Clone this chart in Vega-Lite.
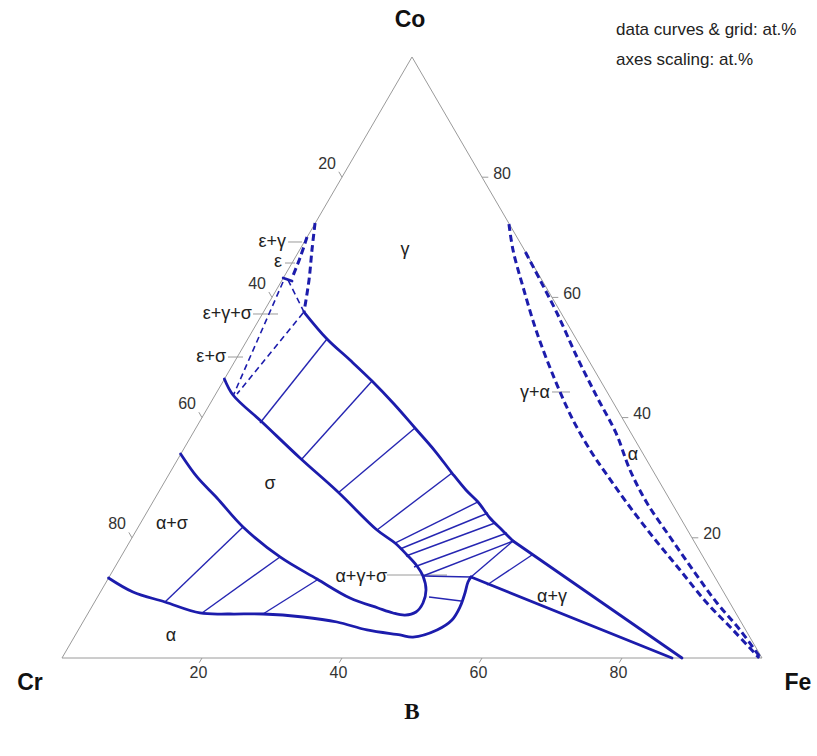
{
  "$schema": "https://vega.github.io/schema/vega-lite/v6.json",
  "width": 817,
  "height": 756,
  "autosize": {"type": "none"},
  "padding": 0,
  "background": "white",
  "config": {"view": {"stroke": null}},
  "datasets": {
    "segments": [
      {"kind": "edge", "x": 0, "y": 0, "x2": 100, "y2": 0},
      {"kind": "edge", "x": 100, "y": 0, "x2": 50, "y2": 100},
      {"kind": "edge", "x": 50, "y": 100, "x2": 0, "y2": 0},
      {"kind": "tick", "x": 20, "y": 0, "x2": 19.6, "y2": -0.8},
      {"kind": "tick", "x": 40, "y": 0, "x2": 39.6, "y2": -0.8},
      {"kind": "tick", "x": 60, "y": 0, "x2": 59.6, "y2": -0.8},
      {"kind": "tick", "x": 80, "y": 0, "x2": 79.6, "y2": -0.8},
      {"kind": "tick", "x": 90, "y": 20, "x2": 90.9, "y2": 20},
      {"kind": "tick", "x": 80, "y": 40, "x2": 80.9, "y2": 40},
      {"kind": "tick", "x": 70, "y": 60, "x2": 70.9, "y2": 60},
      {"kind": "tick", "x": 60, "y": 80, "x2": 60.9, "y2": 80},
      {"kind": "tick", "x": 40, "y": 80, "x2": 39.55, "y2": 80.9},
      {"kind": "tick", "x": 30, "y": 60, "x2": 29.55, "y2": 60.9},
      {"kind": "tick", "x": 20, "y": 40, "x2": 19.55, "y2": 40.9},
      {"kind": "tick", "x": 10, "y": 20, "x2": 9.55, "y2": 20.9},
      {"kind": "leader", "x": 32.3, "y": 69.22, "x2": 34.3, "y2": 69.22},
      {"kind": "leader", "x": 31.86, "y": 65.72, "x2": 33.29, "y2": 65.72},
      {"kind": "leader", "x": 27.29, "y": 57.24, "x2": 30.86, "y2": 57.24},
      {"kind": "leader", "x": 23.71, "y": 50.08, "x2": 25.86, "y2": 50.08},
      {"kind": "leader", "x": 46.43, "y": 13.81, "x2": 55.0, "y2": 13.81},
      {"kind": "leader", "x": 70.0, "y": 44.26, "x2": 72.57, "y2": 44.26},
      {"kind": "tie", "x": 14.71, "y": 9.32, "x2": 25.86, "y2": 21.8},
      {"kind": "tie", "x": 20.0, "y": 7.49, "x2": 31.14, "y2": 16.81},
      {"kind": "tie", "x": 28.71, "y": 7.32, "x2": 36.43, "y2": 12.98},
      {"kind": "tie", "x": 52.43, "y": 10.15, "x2": 57.0, "y2": 9.48},
      {"kind": "tie", "x": 28.29, "y": 39.1, "x2": 37.86, "y2": 53.08},
      {"kind": "tie", "x": 34.14, "y": 32.95, "x2": 44.29, "y2": 46.09},
      {"kind": "tie", "x": 39.43, "y": 27.45, "x2": 50.43, "y2": 38.27},
      {"kind": "tie", "x": 45.0, "y": 21.3, "x2": 55.71, "y2": 30.78},
      {"kind": "tie", "x": 47.57, "y": 19.13, "x2": 59.43, "y2": 25.96},
      {"kind": "tie", "x": 48.29, "y": 18.14, "x2": 60.86, "y2": 24.13},
      {"kind": "tie", "x": 49.14, "y": 16.97, "x2": 61.86, "y2": 22.46},
      {"kind": "tie", "x": 50.29, "y": 15.14, "x2": 63.57, "y2": 20.8},
      {"kind": "tie", "x": 51.57, "y": 13.64, "x2": 64.43, "y2": 19.47},
      {"kind": "tie", "x": 51.57, "y": 13.64, "x2": 58.43, "y2": 13.48},
      {"kind": "tie", "x": 58.43, "y": 13.48, "x2": 64.43, "y2": 19.47},
      {"kind": "tie", "x": 60.71, "y": 12.15, "x2": 67.14, "y2": 17.14}
    ],
    "curves": [
      {"curve": "gamma", "kind": "smooth", "i": 0, "x": 34.57, "y": 57.57},
      {"curve": "gamma", "kind": "smooth", "i": 1, "x": 37.86, "y": 53.08},
      {"curve": "gamma", "kind": "smooth", "i": 2, "x": 41.14, "y": 49.58},
      {"curve": "gamma", "kind": "smooth", "i": 3, "x": 44.29, "y": 46.09},
      {"curve": "gamma", "kind": "smooth", "i": 4, "x": 47.43, "y": 42.26},
      {"curve": "gamma", "kind": "smooth", "i": 5, "x": 50.43, "y": 38.27},
      {"curve": "gamma", "kind": "smooth", "i": 6, "x": 53.29, "y": 34.44},
      {"curve": "gamma", "kind": "smooth", "i": 7, "x": 55.71, "y": 30.78},
      {"curve": "gamma", "kind": "smooth", "i": 8, "x": 57.71, "y": 27.95},
      {"curve": "gamma", "kind": "smooth", "i": 9, "x": 59.43, "y": 25.96},
      {"curve": "gamma", "kind": "smooth", "i": 10, "x": 61.14, "y": 23.29},
      {"curve": "gamma", "kind": "smooth", "i": 11, "x": 62.86, "y": 21.3},
      {"curve": "gamma", "kind": "smooth", "i": 12, "x": 64.43, "y": 19.47},
      {"curve": "gammaEnd", "kind": "solid", "i": 0, "x": 64.43, "y": 19.47},
      {"curve": "gammaEnd", "kind": "solid", "i": 1, "x": 88.57, "y": 0},
      {"curve": "sigma", "kind": "smooth", "i": 0, "x": 23.2, "y": 46.42},
      {"curve": "sigma", "kind": "smooth", "i": 1, "x": 24.43, "y": 43.76},
      {"curve": "sigma", "kind": "smooth", "i": 2, "x": 28.57, "y": 39.27},
      {"curve": "sigma", "kind": "smooth", "i": 3, "x": 34.0, "y": 33.28},
      {"curve": "sigma", "kind": "smooth", "i": 4, "x": 39.43, "y": 27.62},
      {"curve": "sigma", "kind": "smooth", "i": 5, "x": 45.0, "y": 21.3},
      {"curve": "sigma", "kind": "smooth", "i": 6, "x": 47.57, "y": 19.13},
      {"curve": "sigma", "kind": "smooth", "i": 7, "x": 49.29, "y": 17.14},
      {"curve": "sigma", "kind": "smooth", "i": 8, "x": 50.71, "y": 15.31},
      {"curve": "sigma", "kind": "smooth", "i": 9, "x": 51.57, "y": 13.64},
      {"curve": "sigma", "kind": "smooth", "i": 10, "x": 52.0, "y": 11.31},
      {"curve": "sigma", "kind": "smooth", "i": 11, "x": 51.57, "y": 9.15},
      {"curve": "sigma", "kind": "smooth", "i": 12, "x": 50.57, "y": 7.65},
      {"curve": "sigma", "kind": "smooth", "i": 13, "x": 49.0, "y": 7.15},
      {"curve": "sigma", "kind": "smooth", "i": 14, "x": 47.29, "y": 7.49},
      {"curve": "sigma", "kind": "smooth", "i": 15, "x": 45.14, "y": 8.32},
      {"curve": "sigma", "kind": "smooth", "i": 16, "x": 41.14, "y": 9.98},
      {"curve": "sigma", "kind": "smooth", "i": 17, "x": 36.43, "y": 13.14},
      {"curve": "sigma", "kind": "smooth", "i": 18, "x": 31.14, "y": 16.81},
      {"curve": "sigma", "kind": "smooth", "i": 19, "x": 25.86, "y": 21.8},
      {"curve": "sigma", "kind": "smooth", "i": 20, "x": 22.14, "y": 26.62},
      {"curve": "sigma", "kind": "smooth", "i": 21, "x": 19.29, "y": 30.12},
      {"curve": "sigma", "kind": "smooth", "i": 22, "x": 16.95, "y": 33.94},
      {"curve": "alpha", "kind": "smooth", "i": 0, "x": 6.65, "y": 13.31},
      {"curve": "alpha", "kind": "smooth", "i": 1, "x": 10.14, "y": 10.98},
      {"curve": "alpha", "kind": "smooth", "i": 2, "x": 14.71, "y": 9.32},
      {"curve": "alpha", "kind": "smooth", "i": 3, "x": 19.71, "y": 7.49},
      {"curve": "alpha", "kind": "smooth", "i": 4, "x": 24.0, "y": 7.32},
      {"curve": "alpha", "kind": "smooth", "i": 5, "x": 28.71, "y": 7.32},
      {"curve": "alpha", "kind": "smooth", "i": 6, "x": 34.43, "y": 6.82},
      {"curve": "alpha", "kind": "smooth", "i": 7, "x": 39.29, "y": 5.99},
      {"curve": "alpha", "kind": "smooth", "i": 8, "x": 43.57, "y": 4.66},
      {"curve": "alpha", "kind": "smooth", "i": 9, "x": 48.29, "y": 3.83},
      {"curve": "alpha", "kind": "smooth", "i": 10, "x": 50.14, "y": 3.49},
      {"curve": "alpha", "kind": "smooth", "i": 11, "x": 53.57, "y": 4.66},
      {"curve": "alpha", "kind": "smooth", "i": 12, "x": 55.71, "y": 6.32},
      {"curve": "alpha", "kind": "smooth", "i": 13, "x": 56.86, "y": 8.49},
      {"curve": "alpha", "kind": "smooth", "i": 14, "x": 57.57, "y": 10.82},
      {"curve": "alpha", "kind": "smooth", "i": 15, "x": 58.0, "y": 12.65},
      {"curve": "alpha", "kind": "smooth", "i": 16, "x": 58.43, "y": 13.48},
      {"curve": "alphaEnd", "kind": "solid", "i": 0, "x": 58.43, "y": 13.48},
      {"curve": "alphaEnd", "kind": "solid", "i": 1, "x": 87.14, "y": 0},
      {"curve": "epsTip", "kind": "solid", "i": 0, "x": 31.6, "y": 63.23},
      {"curve": "epsTip", "kind": "solid", "i": 1, "x": 32.86, "y": 62.73},
      {"curve": "epsA", "kind": "dashthick", "i": 0, "x": 36.15, "y": 72.38},
      {"curve": "epsA", "kind": "dashthick", "i": 1, "x": 35.71, "y": 67.89},
      {"curve": "epsA", "kind": "dashthick", "i": 2, "x": 35.29, "y": 62.9},
      {"curve": "epsA", "kind": "dashthick", "i": 3, "x": 34.57, "y": 57.57},
      {"curve": "epsB", "kind": "dashthick", "i": 0, "x": 35.0, "y": 70.05},
      {"curve": "epsB", "kind": "dashthick", "i": 1, "x": 34.0, "y": 66.56},
      {"curve": "epsB", "kind": "dashthick", "i": 2, "x": 32.86, "y": 63.23},
      {"curve": "epsC", "kind": "dashthin", "i": 0, "x": 32.29, "y": 62.9},
      {"curve": "epsC", "kind": "dashthin", "i": 1, "x": 34.57, "y": 57.57},
      {"curve": "epsD", "kind": "dashthin", "i": 0, "x": 31.57, "y": 62.56},
      {"curve": "epsD", "kind": "dashthin", "i": 1, "x": 24.43, "y": 43.59},
      {"curve": "epsE", "kind": "dashthin", "i": 0, "x": 34.43, "y": 57.4},
      {"curve": "epsE", "kind": "dashthin", "i": 1, "x": 25.0, "y": 43.93},
      {"curve": "R1", "kind": "dashthick", "i": 0, "x": 63.85, "y": 72.21},
      {"curve": "R1", "kind": "dashthick", "i": 1, "x": 64.43, "y": 67.89},
      {"curve": "R1", "kind": "dashthick", "i": 2, "x": 65.86, "y": 61.73},
      {"curve": "R1", "kind": "dashthick", "i": 3, "x": 67.86, "y": 54.08},
      {"curve": "R1", "kind": "dashthick", "i": 4, "x": 70.43, "y": 46.26},
      {"curve": "R1", "kind": "dashthick", "i": 5, "x": 73.0, "y": 39.6},
      {"curve": "R1", "kind": "dashthick", "i": 6, "x": 75.71, "y": 34.11},
      {"curve": "R1", "kind": "dashthick", "i": 7, "x": 77.86, "y": 30.45},
      {"curve": "R1", "kind": "dashthick", "i": 8, "x": 80.71, "y": 25.79},
      {"curve": "R1", "kind": "dashthick", "i": 9, "x": 84.43, "y": 20.13},
      {"curve": "R1", "kind": "dashthick", "i": 10, "x": 88.29, "y": 14.64},
      {"curve": "R1", "kind": "dashthick", "i": 11, "x": 92.14, "y": 9.15},
      {"curve": "R1", "kind": "dashthick", "i": 12, "x": 95.86, "y": 4.66},
      {"curve": "R1", "kind": "dashthick", "i": 13, "x": 99.6, "y": 0},
      {"curve": "R2", "kind": "dashthick", "i": 0, "x": 66.2, "y": 67.55},
      {"curve": "R2", "kind": "dashthick", "i": 1, "x": 68.29, "y": 62.9},
      {"curve": "R2", "kind": "dashthick", "i": 2, "x": 70.71, "y": 57.4},
      {"curve": "R2", "kind": "dashthick", "i": 3, "x": 73.57, "y": 50.08},
      {"curve": "R2", "kind": "dashthick", "i": 4, "x": 76.43, "y": 43.43},
      {"curve": "R2", "kind": "dashthick", "i": 5, "x": 79.14, "y": 37.44},
      {"curve": "R2", "kind": "dashthick", "i": 6, "x": 81.14, "y": 31.28},
      {"curve": "R2", "kind": "dashthick", "i": 7, "x": 83.57, "y": 25.79},
      {"curve": "R2", "kind": "dashthick", "i": 8, "x": 86.86, "y": 20.13},
      {"curve": "R2", "kind": "dashthick", "i": 9, "x": 90.14, "y": 14.64},
      {"curve": "R2", "kind": "dashthick", "i": 10, "x": 93.57, "y": 9.15},
      {"curve": "R2", "kind": "dashthick", "i": 11, "x": 96.86, "y": 4.66},
      {"curve": "R2", "kind": "dashthick", "i": 12, "x": 99.8, "y": 0}
    ],
    "texts": [
      {"role": "tc", "text": "20", "x": 19.5, "y": -2.5},
      {"role": "tc", "text": "40", "x": 39.5, "y": -2.5},
      {"role": "tc", "text": "60", "x": 59.5, "y": -2.5},
      {"role": "tc", "text": "80", "x": 79.5, "y": -2.5},
      {"role": "tc", "text": "20", "x": 37.86, "y": 82.25},
      {"role": "tc", "text": "40", "x": 27.86, "y": 62.25},
      {"role": "tc", "text": "60", "x": 17.86, "y": 42.25},
      {"role": "tc", "text": "80", "x": 7.86, "y": 22.25},
      {"role": "tl", "text": "20", "x": 91.6, "y": 20.6},
      {"role": "tl", "text": "40", "x": 81.6, "y": 40.6},
      {"role": "tl", "text": "60", "x": 71.6, "y": 60.6},
      {"role": "tl", "text": "80", "x": 61.6, "y": 80.6},
      {"role": "gc", "text": "γ", "x": 49.0, "y": 67.89},
      {"role": "gc", "text": "σ", "x": 29.71, "y": 28.95},
      {"role": "gc", "text": "α+σ", "x": 15.71, "y": 22.3},
      {"role": "gc", "text": "α", "x": 15.57, "y": 3.66},
      {"role": "gc", "text": "α+γ", "x": 70.0, "y": 10.15},
      {"role": "gc", "text": "α", "x": 81.57, "y": 33.78},
      {"role": "gr", "text": "ε+γ", "x": 32.0, "y": 69.22},
      {"role": "gr", "text": "ε", "x": 31.43, "y": 65.89},
      {"role": "gr", "text": "ε+γ+σ", "x": 27.14, "y": 57.24},
      {"role": "gr", "text": "ε+σ", "x": 23.43, "y": 50.08},
      {"role": "gr", "text": "α+γ+σ", "x": 46.43, "y": 13.48},
      {"role": "gr", "text": "γ+α", "x": 69.71, "y": 44.09},
      {"role": "v", "text": "Co", "x": 49.71, "y": 106.16},
      {"role": "v", "text": "Cr", "x": -4.57, "y": -4.16},
      {"role": "v", "text": "Fe", "x": 105.14, "y": -4.16},
      {"role": "n", "text": "data curves & grid: at.%", "x": 79.14, "y": 103.66},
      {"role": "n", "text": "axes scaling: at.%", "x": 79.14, "y": 98.75},
      {"role": "cap", "text": "B", "x": 50.0, "y": -8.99}
    ]
  },
  "encoding": {
    "x": {"field": "x", "type": "quantitative", "axis": null, "scale": {"domain": [-8.857, 107.857], "nice": false, "zero": false}},
    "y": {"field": "y", "type": "quantitative", "axis": null, "scale": {"domain": [-16.306, 109.484], "nice": false, "zero": false}}
  },
  "layer": [
    {
      "data": {"name": "segments"},
      "transform": [{"filter": "datum.kind !== 'tie'"}],
      "mark": {"type": "rule", "color": "#9a9a9a", "strokeWidth": 1},
      "encoding": {"x2": {"field": "x2"}, "y2": {"field": "y2"}}
    },
    {
      "data": {"name": "segments"},
      "transform": [{"filter": "datum.kind === 'tie'"}],
      "mark": {"type": "rule", "color": "#2626b2", "strokeWidth": 1.4},
      "encoding": {"x2": {"field": "x2"}, "y2": {"field": "y2"}}
    },
    {
      "data": {"name": "curves"},
      "transform": [{"filter": "datum.kind === 'solid'"}],
      "mark": {"type": "line", "color": "#1c1cac", "strokeWidth": 2.8, "strokeJoin": "round", "strokeCap": "round"},
      "encoding": {"detail": {"field": "curve", "type": "nominal"}, "order": {"field": "i", "type": "quantitative"}}
    },
    {
      "data": {"name": "curves"},
      "transform": [{"filter": "datum.kind === 'smooth'"}],
      "mark": {"type": "line", "color": "#1c1cac", "strokeWidth": 2.8, "strokeJoin": "round", "strokeCap": "round", "interpolate": "catmull-rom"},
      "encoding": {"detail": {"field": "curve", "type": "nominal"}, "order": {"field": "i", "type": "quantitative"}}
    },
    {
      "data": {"name": "curves"},
      "transform": [{"filter": "datum.kind === 'dashthick'"}],
      "mark": {"type": "line", "color": "#1c1cac", "strokeWidth": 3, "strokeDash": [7, 4], "strokeJoin": "round", "interpolate": "catmull-rom"},
      "encoding": {"detail": {"field": "curve", "type": "nominal"}, "order": {"field": "i", "type": "quantitative"}}
    },
    {
      "data": {"name": "curves"},
      "transform": [{"filter": "datum.kind === 'dashthin'"}],
      "mark": {"type": "line", "color": "#1c1cac", "strokeWidth": 1.6, "strokeDash": [6, 4], "strokeJoin": "round"},
      "encoding": {"detail": {"field": "curve", "type": "nominal"}, "order": {"field": "i", "type": "quantitative"}}
    },
    {
      "data": {"name": "texts"},
      "transform": [{"filter": "datum.role === 'tc'"}],
      "mark": {"type": "text", "font": "Liberation Sans", "fontSize": 16, "color": "#333333", "align": "center", "baseline": "middle"},
      "encoding": {"text": {"field": "text"}}
    },
    {
      "data": {"name": "texts"},
      "transform": [{"filter": "datum.role === 'tl'"}],
      "mark": {"type": "text", "font": "Liberation Sans", "fontSize": 16, "color": "#333333", "align": "left", "baseline": "middle"},
      "encoding": {"text": {"field": "text"}}
    },
    {
      "data": {"name": "texts"},
      "transform": [{"filter": "datum.role === 'gc'"}],
      "mark": {"type": "text", "font": "Liberation Sans", "fontSize": 18, "color": "#222222", "align": "center", "baseline": "middle"},
      "encoding": {"text": {"field": "text"}}
    },
    {
      "data": {"name": "texts"},
      "transform": [{"filter": "datum.role === 'gr'"}],
      "mark": {"type": "text", "font": "Liberation Sans", "fontSize": 18, "color": "#222222", "align": "right", "baseline": "middle"},
      "encoding": {"text": {"field": "text"}}
    },
    {
      "data": {"name": "texts"},
      "transform": [{"filter": "datum.role === 'v'"}],
      "mark": {"type": "text", "font": "Liberation Sans", "fontSize": 23, "fontWeight": "bold", "color": "#111111", "align": "center", "baseline": "middle"},
      "encoding": {"text": {"field": "text"}}
    },
    {
      "data": {"name": "texts"},
      "transform": [{"filter": "datum.role === 'n'"}],
      "mark": {"type": "text", "font": "Liberation Sans", "fontSize": 17, "color": "#222222", "align": "left", "baseline": "alphabetic"},
      "encoding": {"text": {"field": "text"}}
    },
    {
      "data": {"name": "texts"},
      "transform": [{"filter": "datum.role === 'cap'"}],
      "mark": {"type": "text", "font": "Liberation Serif", "fontSize": 23, "fontWeight": "bold", "color": "#111111", "align": "center", "baseline": "middle"},
      "encoding": {"text": {"field": "text"}}
    }
  ]
}
